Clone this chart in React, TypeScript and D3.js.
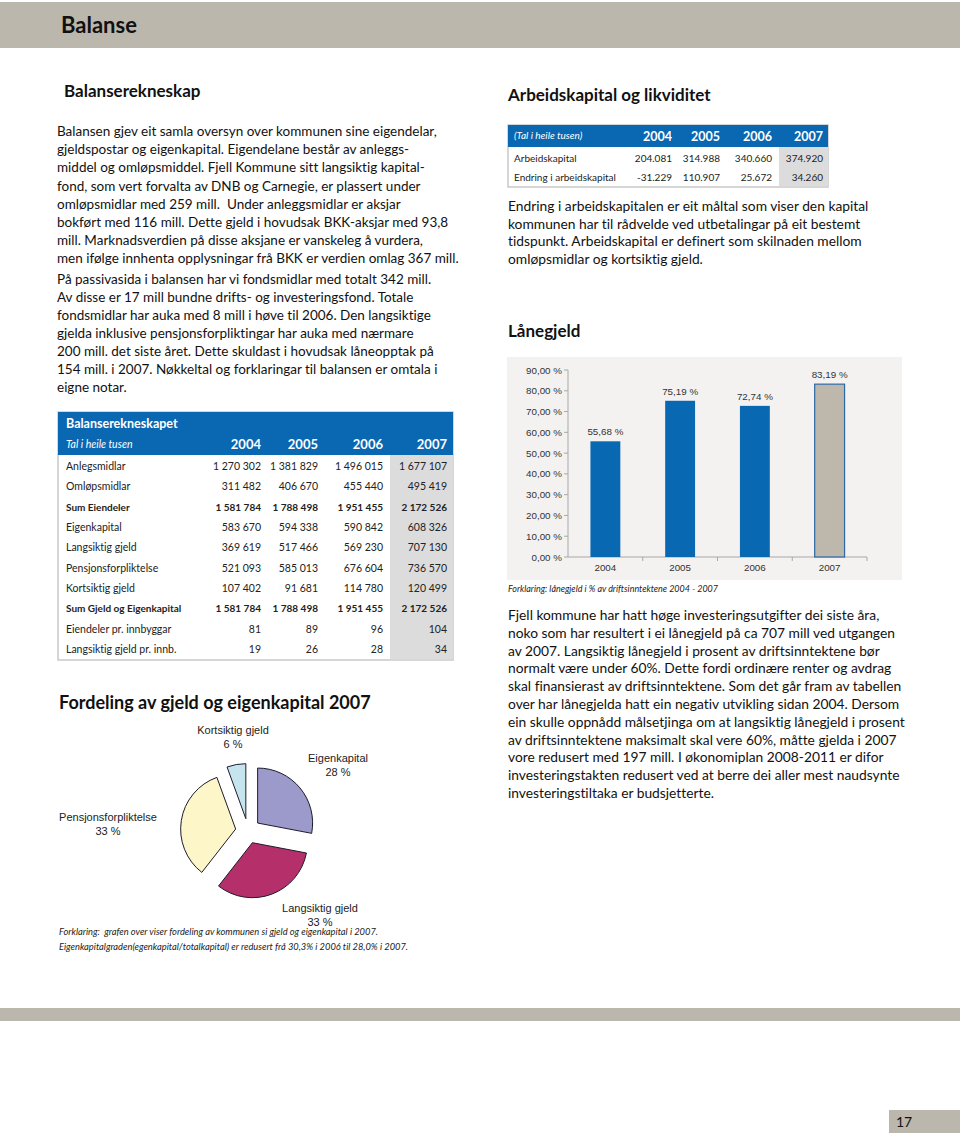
import React from "react";
import * as d3 from "d3";

// ---------- data ----------
const years = ["2004", "2005", "2006", "2007"];

const balanceLabels = [
  "Anlegsmidlar",
  "Omløpsmidlar",
  "Sum Eiendeler",
  "Eigenkapital",
  "Langsiktig gjeld",
  "Pensjonsforpliktelse",
  "Kortsiktig gjeld",
  "Sum Gjeld og Eigenkapital",
  "Eiendeler pr. innbyggar",
  "Langsiktig gjeld pr. innb.",
];
const balanceBold = [false, false, true, false, false, false, false, true, false, false];
const anleggsmidlar = [1270302, 1381829, 1496015, 1677107];
const omlopsmidlar = [311482, 406670, 455440, 495419];
const sumEiendeler = [1581784, 1788498, 1951455, 2172526];
const eigenkapital = [583670, 594338, 590842, 608326];
const langsiktigGjeld = [369619, 517466, 569230, 707130];
const pensjon = [521093, 585013, 676604, 736570];
const kortsiktigGjeld = [107402, 91681, 114780, 120499];
const sumGjeld = [1581784, 1788498, 1951455, 2172526];
const eiendelerPrInnb = [81, 89, 96, 104];
const gjeldPrInnb = [19, 26, 28, 34];
const balanceValues = [
  anleggsmidlar, omlopsmidlar, sumEiendeler, eigenkapital, langsiktigGjeld,
  pensjon, kortsiktigGjeld, sumGjeld, eiendelerPrInnb, gjeldPrInnb,
];

const wcLabels = ["Arbeidskapital", "Endring i arbeidskapital"];
const arbeidskapital = [204081, 314988, 340660, 374920];
const endringArbeidskapital = [-31229, 110907, 25672, 34260];

const pieCategories = ["Eigenkapital", "Langsiktig gjeld", "Pensjonsforpliktelse", "Kortsiktig gjeld"];
const pieValues = [608326, 707130, 736570, 120499];
const pieShownPct = [28, 33, 33, 6];
const pieColors = ["#9b9acb", "#b5306a", "#fcf6c8", "#c6e4ee"];

const loanYears = ["2004", "2005", "2006", "2007"];
const loanPct = [55.68, 75.19, 72.74, 83.19];
const loanTicks = [0, 10, 20, 30, 40, 50, 60, 70, 80, 90];

const leftPara1 = [
  "Balansen gjev eit samla oversyn over kommunen sine eigendelar,",
  "gjeldspostar og eigenkapital. Eigendelane består av anleggs-",
  "middel og omløpsmiddel. Fjell Kommune sitt langsiktig kapital-",
  "fond, som vert forvalta av DNB og Carnegie, er plassert under",
  "omløpsmidlar med 259 mill.  Under anleggsmidlar er aksjar",
  "bokført med 116 mill. Dette gjeld i hovudsak BKK-aksjar med 93,8",
  "mill. Marknadsverdien på disse aksjane er vanskeleg å vurdera,",
  "men ifølge innhenta opplysningar frå BKK er verdien omlag 367 mill.",
];
const leftPara2 = [
  "På passivasida i balansen har vi fondsmidlar med totalt 342 mill.",
  "Av disse er 17 mill bundne drifts- og investeringsfond. Totale",
  "fondsmidlar har auka med 8 mill i høve til 2006. Den langsiktige",
  "gjelda inklusive pensjonsforpliktingar har auka med nærmare",
  "200 mill. det siste året. Dette skuldast i hovudsak låneopptak på",
  "154 mill. i 2007. Nøkkeltal og forklaringar til balansen er omtala i",
  "eigne notar.",
];
const rightPara1 = [
  "Endring i arbeidskapitalen er eit måltal som viser den kapital",
  "kommunen har til rådvelde ved utbetalingar på eit bestemt",
  "tidspunkt. Arbeidskapital er definert som skilnaden mellom",
  "omløpsmidlar og kortsiktig gjeld.",
];
const rightPara2 = [
  "Fjell kommune har hatt høge investeringsutgifter dei siste åra,",
  "noko som har resultert i ei lånegjeld på ca 707 mill ved utgangen",
  "av 2007. Langsiktig lånegjeld i prosent av driftsinntektene bør",
  "normalt være under 60%. Dette fordi ordinære renter og avdrag",
  "skal finansierast av driftsinntektene. Som det går fram av tabellen",
  "over har lånegjelda hatt ein negativ utvikling sidan 2004. Dersom",
  "ein skulle oppnådd målsetjinga om at langsiktig lånegjeld i prosent",
  "av driftsinntektene maksimalt skal vere 60%, måtte gjelda i 2007",
  "vore redusert med 197 mill. I økonomiplan 2008-2011 er difor",
  "investeringstakten redusert ved at berre dei aller mest naudsynte",
  "investeringstiltaka er budsjetterte.",
];

// ---------- formatting ----------
const noSpace = d3.formatLocale({ decimal: ",", thousands: " ", grouping: [3], currency: ["", ""], minus: "-" });
const noDot = d3.formatLocale({ decimal: ",", thousands: ".", grouping: [3], currency: ["", ""], minus: "-" });
const fmtBal = noSpace.format(",d");
const fmtWc = noDot.format(",d");
const fmtPct = (v: number) => noSpace.format(".2f")(v) + " %";

const BODY = "Lato, 'Open Sans', sans-serif";
const ARIAL = "'Liberation Sans', Arial, sans-serif";
const BEIGE = "#bcb7ad";
const BLUE = "#0a67b1";

function Para({ lines, x, y0, dy, size }: { lines: string[]; x: number; y0: number; dy: number; size: number }) {
  return (
    <g fontFamily={BODY} fontSize={size} fill="#111">
      {lines.map((l, i) => (
        <text key={i} x={x} y={y0 + i * dy} xmlSpace="preserve">{l}</text>
      ))}
    </g>
  );
}

function BalanceTable() {
  const x0 = 58, x1 = 453, top = 412, headBottom = 455, bottom = 660;
  const colRight = [261, 318, 383, 447];
  const rowY = d3.scaleLinear().domain([0, balanceLabels.length - 1]).range([470, 653]);
  return (
    <g>
      <rect x={x0} y={top} width={x1 - x0} height={bottom - top} fill="#fff" stroke="#c9c9c9" strokeWidth={1.5} />
      <rect x={x0} y={top} width={x1 - x0} height={headBottom - top} fill={BLUE} />
      <rect x={390} y={headBottom} width={x1 - 390} height={bottom - headBottom - 1} fill="#dcdcdc" />
      <text x={66} y={428} fill="#fff" fontFamily={BODY} fontWeight={700} fontSize={12.5}>Balanserekneskapet</text>
      <text x={66} y={448} fill="#fff" fontFamily={BODY} fontStyle="italic" fontSize={10.5}>Tal i heile tusen</text>
      {years.map((yr, i) => (
        <text key={yr} x={colRight[i]} y={449} textAnchor="end" fill="#fff" fontFamily={BODY} fontWeight={700} fontSize={13}>{yr}</text>
      ))}
      {balanceLabels.map((lab, r) => (
        <g key={lab} fontFamily={BODY} fontSize={balanceBold[r] ? 10 : 10.5} fill="#222" fontWeight={balanceBold[r] ? 700 : 400}>
          <text x={66} y={rowY(r)}>{lab}</text>
          {balanceValues[r].map((v, c) => (
            <text key={c} x={colRight[c]} y={rowY(r)} textAnchor="end">{fmtBal(v)}</text>
          ))}
        </g>
      ))}
    </g>
  );
}

function WorkingCapitalTable() {
  const x0 = 508, x1 = 828, top = 125, headBottom = 147, bottom = 187;
  const colRight = [672, 720, 772, 823];
  const rows = [arbeidskapital, endringArbeidskapital];
  const rowY = [162, 181];
  return (
    <g>
      <rect x={x0} y={top} width={x1 - x0} height={bottom - top} fill="#fff" stroke="#c9c9c9" strokeWidth={1.5} />
      <rect x={x0} y={top} width={x1 - x0} height={headBottom - top} fill={BLUE} />
      <rect x={779} y={headBottom} width={x1 - 779} height={bottom - headBottom - 1} fill="#dcdcdc" />
      <text x={514} y={139} fill="#fff" fontFamily={BODY} fontStyle="italic" fontSize={10}>(Tal i heile tusen)</text>
      {years.map((yr, i) => (
        <text key={yr} x={colRight[i]} y={141} textAnchor="end" fill="#fff" fontFamily={BODY} fontWeight={700} fontSize={12.5}>{yr}</text>
      ))}
      {rows.map((vals, r) => (
        <g key={r} fontFamily={BODY} fontSize={10} fill="#222">
          <text x={514} y={rowY[r]}>{wcLabels[r]}</text>
          {vals.map((v, c) => (
            <text key={c} x={colRight[c]} y={rowY[r]} textAnchor="end">{fmtWc(v)}</text>
          ))}
        </g>
      ))}
    </g>
  );
}

function PieChart() {
  const cx = 248, cy = 831, r = 55, explode = 12.5;
  const arcs = d3.pie<number>().sort(null).value((d) => d)(pieValues);
  const arc = d3.arc<d3.PieArcDatum<number>>().innerRadius(0).outerRadius(r);
  const labelPos: [number, number][] = [[338, 758], [320, 908], [108, 817], [233, 730]];
  return (
    <g>
      {arcs.map((a, i) => {
        const mid = (a.startAngle + a.endAngle) / 2;
        const dx = Math.sin(mid) * explode, dy = -Math.cos(mid) * explode;
        return (
          <path key={i} d={arc(a) || ""} transform={`translate(${cx + dx},${cy + dy})`}
            fill={pieColors[i]} stroke="#1c1c2c" strokeWidth={1} />
        );
      })}
      {pieCategories.map((c, i) => (
        <g key={c} fontFamily={ARIAL} fontSize={11} fill="#222" textAnchor="middle">
          <text x={labelPos[i][0]} y={labelPos[i][1] + 4}>{c}</text>
          <text x={labelPos[i][0]} y={labelPos[i][1] + 18}>{pieShownPct[i] + " %"}</text>
        </g>
      ))}
    </g>
  );
}

function BarChart() {
  const x = d3.scaleBand().domain(loanYears).range([568, 867]).paddingInner(0.6).paddingOuter(0.3);
  const y = d3.scaleLinear().domain([0, 90]).range([557, 370]);
  const bw = x.bandwidth();
  const step = x.step();
  return (
    <g>
      <rect x={507} y={357} width={395} height={223} fill="#f4f2f0" />
      <line x1={568} x2={568} y1={y(90)} y2={y(0)} stroke="#a8a8a8" />
      <line x1={568} x2={867} y1={y(0)} y2={y(0)} stroke="#a8a8a8" />
      {loanTicks.map((t) => (
        <g key={t}>
          <line x1={564} x2={568} y1={y(t)} y2={y(t)} stroke="#a8a8a8" />
          <text x={562} y={y(t) + 3.5} textAnchor="end" fontFamily={ARIAL} fontSize={9.8} fill="#333">{fmtPct(t)}</text>
        </g>
      ))}
      {loanYears.map((yr, i) => (
        <line key={"t" + yr} x1={568 + step * (i + 1)} x2={568 + step * (i + 1)} y1={y(0)} y2={y(0) + 4} stroke="#a8a8a8" />
      ))}
      {loanYears.map((yr, i) => {
        const last = i === loanYears.length - 1;
        return (
          <g key={yr}>
            <rect x={(x(yr) as number)} y={y(loanPct[i])} width={bw} height={y(0) - y(loanPct[i])}
              fill={last ? "#bdb7ac" : "#0868b2"} stroke={last ? "#2d6aa5" : "none"} strokeWidth={last ? 1.2 : 0} />
            <text x={(x(yr) as number) + bw / 2} y={y(loanPct[i]) - 6} textAnchor="middle" fontFamily={ARIAL} fontSize={9.8} fill="#333">{fmtPct(loanPct[i])}</text>
            <text x={(x(yr) as number) + bw / 2} y={571} textAnchor="middle" fontFamily={ARIAL} fontSize={9.8} fill="#333">{yr}</text>
          </g>
        );
      })}
    </g>
  );
}

export default function App() {
  return (
    <svg width={960} height={1133} viewBox="0 0 960 1133"
      style={{ position: "absolute", left: 0, top: 0, background: "#fff", fontVariantLigatures: "none" }}>
      <rect x={0} y={0} width={960} height={1133} fill="#fff" />
      {/* header band */}
      <rect x={0} y={2} width={960} height={46} fill={BEIGE} />
      <text x={61} y={33} fontFamily={BODY} fontWeight={700} fontSize={22} fill="#111">Balanse</text>

      <text x={64} y={97} fontFamily={BODY} fontWeight={700} fontSize={17} fill="#111">Balanserekneskap</text>
      <Para lines={leftPara1} x={57} y0={136} dy={18.2} size={13.5} />
      <Para lines={leftPara2} x={57} y0={283.5} dy={18.1} size={13.5} />

      <BalanceTable />

      <text x={59} y={709} fontFamily={BODY} fontWeight={700} fontSize={18} fill="#111">Fordeling av gjeld og eigenkapital 2007</text>
      <PieChart />
      <g fontFamily={BODY} fontStyle="italic" fontSize={9.5} fill="#222">
        <text x={59} y={935} textLength={319} lengthAdjust="spacingAndGlyphs" xmlSpace="preserve">Forklaring:  grafen over viser fordeling av kommunen si gjeld og eigenkapital i 2007.</text>
        <text x={59} y={950} textLength={349} lengthAdjust="spacingAndGlyphs">Eigenkapitalgraden(egenkapital/totalkapital) er redusert frå 30,3% i 2006 til 28,0% i 2007.</text>
      </g>

      {/* right column */}
      <text x={508} y={101} fontFamily={BODY} fontWeight={700} fontSize={17} fill="#111">Arbeidskapital og likviditet</text>
      <WorkingCapitalTable />
      <Para lines={rightPara1} x={508} y0={211} dy={17.6} size={13.8} />

      <text x={508} y={337} fontFamily={BODY} fontWeight={700} fontSize={17} fill="#111">Lånegjeld</text>
      <BarChart />
      <text x={508} y={592} fontFamily={BODY} fontStyle="italic" fontSize={10} fill="#222" textLength={210} lengthAdjust="spacingAndGlyphs">Forklaring: lånegjeld i % av driftsinntektene 2004 - 2007</text>
      <Para lines={rightPara2} x={508} y0={620} dy={17.8} size={13.8} />

      {/* footer */}
      <rect x={0} y={1008} width={960} height={13} fill={BEIGE} />
      <rect x={889} y={1110} width={71} height={23} fill={BEIGE} />
      <text x={896} y={1127} fontFamily={BODY} fontSize={14} fill="#111">17</text>
    </svg>
  );
}
